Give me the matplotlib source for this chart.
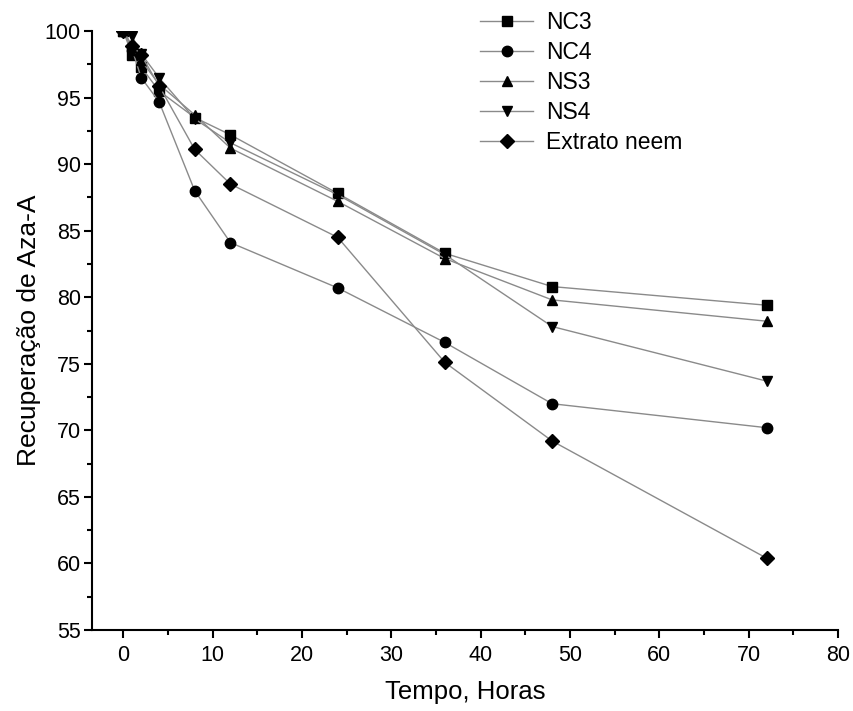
import matplotlib.pyplot as plt
from matplotlib.ticker import MultipleLocator

plt.rcParams['font.family'] = ['Liberation Sans', 'DejaVu Sans']

# Data
tempo = [0, 1, 2, 4, 8, 12, 24, 36, 48, 72]
nc3 = [100, 98.2, 97.3, 95.5, 93.5, 92.2, 87.8, 83.3, 80.8, 79.4]
nc4 = [100, 98.6, 96.5, 94.7, 88.0, 84.1, 80.7, 76.6, 72.0, 70.2]
ns3 = [100, 98.8, 97.8, 96.0, 93.7, 91.2, 87.2, 82.9, 79.8, 78.2]
ns4 = [100, 99.6, 98.3, 96.5, 93.4, 91.6, 87.7, 83.2, 77.8, 73.7]
extrato = [100, 98.9, 98.2, 95.9, 91.1, 88.5, 84.5, 75.1, 69.2, 60.4]

series = [
    ("NC3", nc3, "s"),
    ("NC4", nc4, "o"),
    ("NS3", ns3, "^"),
    ("NS4", ns4, "v"),
    ("Extrato neem", extrato, "D"),
]

fig = plt.figure(figsize=(8.54, 7.11), dpi=100)
ax = fig.add_axes([0.1077, 0.1139, 0.8736, 0.8425])

for name, vals, mk in series:
    ms = 7.5 if mk != "D" else 7
    ax.plot(tempo, vals, color="#8a8a8a", linewidth=1.0, marker=mk,
            markersize=ms, markerfacecolor="black", markeredgecolor="black",
            label=name)

ax.set_xlim(-3.5, 80)
ax.set_ylim(55, 100)
ax.xaxis.set_major_locator(MultipleLocator(10))
ax.xaxis.set_minor_locator(MultipleLocator(5))
ax.yaxis.set_major_locator(MultipleLocator(5))
ax.yaxis.set_minor_locator(MultipleLocator(2.5))

for side in ["top", "right"]:
    ax.spines[side].set_visible(False)
for side in ["left", "bottom"]:
    ax.spines[side].set_linewidth(1.5)

ax.tick_params(which="major", length=6, width=1.5, labelsize=15.5, direction="out")
ax.tick_params(axis="y", which="major", pad=2)
ax.tick_params(axis="x", which="major", pad=5)
ax.tick_params(which="minor", length=3.5, width=1.5, direction="out")

ax.set_xlabel("Tempo, Horas", fontsize=18.5, labelpad=10)
ax.set_ylabel("Recuperação de Aza-A", fontsize=19, labelpad=3)

ax.legend(loc="upper left", bbox_to_anchor=(0.493, 1.067), frameon=False,
          fontsize=16.5, handlelength=2.3, labelspacing=0.3, handletextpad=0.55)

fig.savefig("out.png", dpi=100)
